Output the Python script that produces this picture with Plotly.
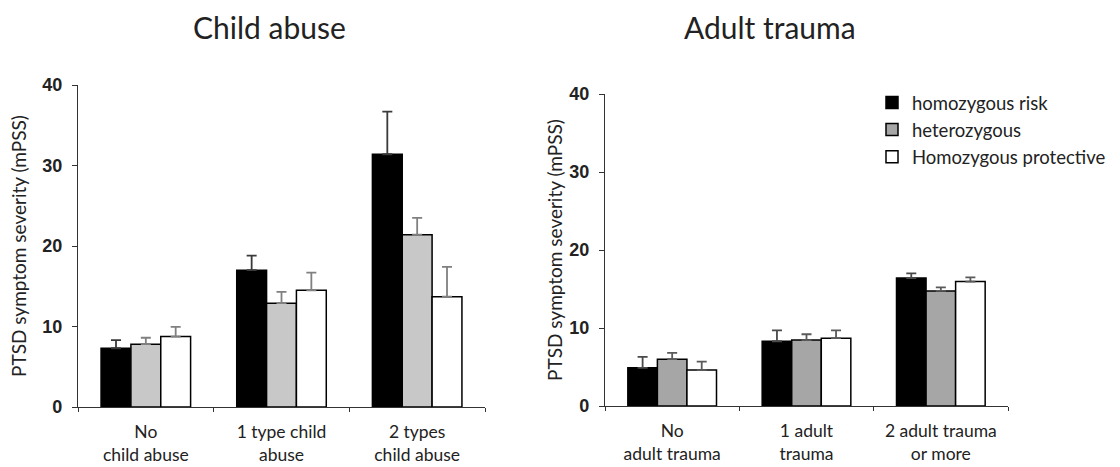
import plotly.graph_objects as go

W, H = 1120, 467

# Child abuse panel
abuse_cats = ["No<br>child abuse", "1 type child<br>abuse", "2 types<br>child abuse"]
abuse_risk = [7.3, 17.0, 31.4]
abuse_risk_err = [1.0, 1.8, 5.3]
abuse_het = [7.8, 12.9, 21.4]
abuse_het_err = [0.8, 1.4, 2.1]
abuse_prot = [8.75, 14.5, 13.7]
abuse_prot_err = [1.2, 2.2, 3.7]

# Adult trauma panel
trauma_cats = ["No<br>adult trauma", "1 adult<br>trauma", "2 adult trauma<br>or more"]
trauma_risk = [4.9, 8.3, 16.4]
trauma_risk_err = [1.4, 1.4, 0.6]
trauma_het = [6.0, 8.45, 14.75]
trauma_het_err = [0.8, 0.75, 0.45]
trauma_prot = [4.6, 8.7, 15.95]
trauma_prot_err = [1.1, 1.0, 0.55]

genotypes = ["homozygous risk", "heterozygous", "Homozygous protective"]
y_ticks = [0, 10, 20, 30, 40]
panel_titles = ["Child abuse", "Adult trauma"]
y_title = "PTSD symptom severity (mPSS)"

LABEL_FONT = "Lato"
TICK_FONT = "Liberation Sans"


def bar(name, cats, vals, errs, fill, err_color, xa, ya, show):
    return go.Bar(
        name=name, x=cats, y=vals, xaxis=xa, yaxis=ya, showlegend=show,
        marker=dict(color=fill, line=dict(color="black", width=1.5)),
        error_y=dict(type="data", array=errs, arrayminus=[0] * len(errs),
                     symmetric=False, color=err_color, thickness=1.8, width=5),
    )


fig = go.Figure()
fig.add_trace(bar(genotypes[0], abuse_cats, abuse_risk, abuse_risk_err, "black", "#3a3a3a", "x", "y", False))
fig.add_trace(bar(genotypes[1], abuse_cats, abuse_het, abuse_het_err, "#c8c8c8", "#808080", "x", "y", False))
fig.add_trace(bar(genotypes[2], abuse_cats, abuse_prot, abuse_prot_err, "white", "#808080", "x", "y", False))
fig.add_trace(bar(genotypes[0], trauma_cats, trauma_risk, trauma_risk_err, "black", "#4a4a4a", "x2", "y2", True))
fig.add_trace(bar(genotypes[1], trauma_cats, trauma_het, trauma_het_err, "#a6a6a6", "#5a5a5a", "x2", "y2", True))
fig.add_trace(bar(genotypes[2], trauma_cats, trauma_prot, trauma_prot_err, "white", "#5a5a5a", "x2", "y2", True))


def px_x(p):
    return p / W


def px_y(p):
    return 1 - p / H


xaxis_common = dict(
    type="category", showline=True, linecolor="#333", linewidth=1.2,
    ticks="outside", tickson="boundaries", ticklen=4, tickcolor="#333",
    ticklabelstandoff=9,
    tickfont=dict(family=LABEL_FONT, size=17.5, color="#222"),
    showgrid=False, zeroline=False, fixedrange=True, automargin=False,
)
yaxis_common = dict(
    range=[0, 40], tickvals=y_ticks, showline=True, linecolor="#333", linewidth=1.2,
    ticks="outside", ticklen=5, tickcolor="#333", ticklabelstandoff=6,
    tickfont=dict(family=TICK_FONT, size=18, color="#222", weight="bold"),
    showgrid=False, zeroline=False, fixedrange=True, automargin=False,
)

fig.update_layout(
    width=W, height=H,
    margin=dict(l=0, r=0, t=0, b=0, autoexpand=False),
    paper_bgcolor="white", plot_bgcolor="white",
    barmode="group", bargap=0.34, bargroupgap=0,
    xaxis=dict(domain=[px_x(78), px_x(485)], anchor="y", **xaxis_common),
    yaxis=dict(domain=[px_y(407), px_y(85)], anchor="x",
               title=dict(text=y_title, standoff=10,
                          font=dict(family=LABEL_FONT, size=19, color="#222")),
               **yaxis_common),
    xaxis2=dict(domain=[px_x(605), px_x(1008)], anchor="y2", **xaxis_common),
    yaxis2=dict(domain=[px_y(406), px_y(94)], anchor="x2",
                title=dict(text=y_title, standoff=1,
                           font=dict(family=LABEL_FONT, size=19, color="#222")),
                **yaxis_common),
    legend=dict(
        x=px_x(872), y=px_y(84), xanchor="left", yanchor="top",
        font=dict(family=LABEL_FONT, size=18.5, color="#222"),
        bgcolor="rgba(0,0,0,0)", traceorder="normal",
    ),
    annotations=[
        dict(text=panel_titles[0], x=px_x(269), y=px_y(27), xref="paper", yref="paper",
             showarrow=False, xanchor="center", yanchor="middle",
             font=dict(family=LABEL_FONT, size=30, color="#222")),
        dict(text=panel_titles[1], x=px_x(770), y=px_y(27), xref="paper", yref="paper",
             showarrow=False, xanchor="center", yanchor="middle",
             font=dict(family=LABEL_FONT, size=30, color="#222")),
    ],
)

fig.write_html("out.html")
